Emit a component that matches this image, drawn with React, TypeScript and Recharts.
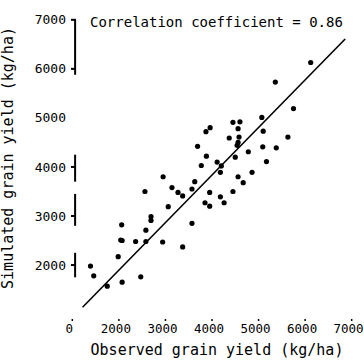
import { ReferenceLine, Scatter, ScatterChart, XAxis, YAxis } from "recharts";

const FONT = "'DejaVu Sans Mono', monospace";

// observed (x) vs simulated (y) grain yield, kg/ha
const OBSERVED = [
  6120, 5360, 5750, 5070, 4450, 4600, 3960, 3870, 4560, 5100, 4370, 4580, 5630, 4560, 4540,
  4780, 5090, 5380, 3880, 4500, 4110, 5170, 3770, 4200, 4180, 4860, 4560, 4670, 3950, 4450,
  4180, 3690, 2950, 3630, 2560, 3140, 3270, 3370, 3570, 3850, 3950, 4260, 3060, 2690, 2690,
  3570, 2060, 2580, 2070, 2040, 2360, 2580, 2940, 3370, 1985, 1390, 1460, 1750, 2070, 2470,
];
const SIMULATED = [
  6130, 5730, 5190, 5010, 4910, 4920, 4800, 4720, 4780, 4730, 4590, 4610, 4610, 4500, 4440,
  4310, 4410, 4390, 4220, 4200, 4100, 4110, 4030, 4020, 3890, 3890, 3800, 3680, 3480, 3500,
  3390, 4420, 3800, 3700, 3500, 3580, 3480, 3410, 3550, 3270, 3200, 3270, 3190, 2990, 2910,
  2850, 2820, 2710, 2500, 2510, 2480, 2480, 2470, 2370, 2170, 1980, 1780, 1570, 1650, 1760,
];

const X_TICKS = [1000, 2000, 3000, 4000, 5000, 6000, 7000];
const X_TICK_LABELS = ["0", "2000", "3000", "4000", "5000", "6000", "7000"];
const Y_TICKS = [2000, 3000, 4000, 5000, 6000, 7000];
const Y_TICKS_MARKED = [2000, 3000, 4000, 6000, 7000];
// pieces of the (broken) y axis line that survive in the print
const Y_AXIS_PIECES = [
  [5880, 7000],
  [3700, 4250],
  [2800, 3450],
  [1750, 2250],
];
const Y_AXIS_AT = 1060;

const FIT_X = [1220, 6860];
const FIT_Y = [1140, 6610];
const CORRELATION = "0.86";

const data = OBSERVED.map((x, i) => ({ x, y: SIMULATED[i] }));

function YTick(props: any) {
  const { x, y, payload } = props;
  const v = Number(payload.value);
  return (
    <g>
      <text x={x + 3} y={y} dy="0.35em" textAnchor="end" fontSize={13} fontFamily={FONT} fill="#000">
        {v}
      </text>
      {Y_TICKS_MARKED.includes(v) && <rect x={x + 8} y={y - 1} width={5} height={2} fill="#000" />}
    </g>
  );
}

export default function App() {
  return (
    <div style={{ position: "absolute", left: 0, top: 0, width: 364, height: 364, background: "#fff" }}>
      <ScatterChart width={364} height={364} margin={{ top: 10, right: 3, bottom: 0, left: 0 }}>
        <XAxis
          dataKey="x"
          type="number"
          domain={[800, 7200]}
          allowDataOverflow
          ticks={X_TICKS}
          tickFormatter={(v) => X_TICK_LABELS[X_TICKS.indexOf(v)] ?? ""}
          axisLine={false}
          tickSize={2}
          tickMargin={3}
          tickLine={{ stroke: "#000", strokeWidth: 1.5 }}
          tick={{ fill: "#000", fontSize: 12.5, fontFamily: FONT, dx: -3 }}
          height={45}
        />
        <YAxis
          dataKey="y"
          type="number"
          domain={[900, 7200]}
          allowDataOverflow
          ticks={Y_TICKS}
          axisLine={{ stroke: "transparent" }}
          tickLine={false}
          tickSize={0}
          tickMargin={0}
          tick={YTick}
          width={63}
        />
        {Y_AXIS_PIECES.map(([a, b], i) => (
          <ReferenceLine
            key={i}
            segment={[
              { x: Y_AXIS_AT, y: a },
              { x: Y_AXIS_AT, y: b },
            ]}
            stroke="#000"
            strokeWidth={2}
          />
        ))}
        <ReferenceLine
          segment={[
            { x: FIT_X[0], y: FIT_Y[0] },
            { x: FIT_X[1], y: FIT_Y[1] },
          ]}
          stroke="#000"
          strokeWidth={1.6}
        />
        <Scatter
          data={data}
          isAnimationActive={false}
          shape={(p: any) => <circle cx={p.cx} cy={p.cy} r={2.6} fill="#000" />}
        />
      </ScatterChart>
      <svg
        width={364}
        height={364}
        style={{ position: "absolute", left: 0, top: 0, pointerEvents: "none" }}
      >
        <text x={90} y={27} fontSize={14} fontFamily={FONT} fill="#000">
          {`Correlation coefficient = ${CORRELATION}`}
        </text>
        <text x={217} y={355} textAnchor="middle" fontSize={15} fontFamily={FONT} fill="#000">
          Observed grain yield (kg/ha)
        </text>
        <text
          transform="translate(13 158) rotate(-90)"
          textAnchor="middle"
          fontSize={15}
          fontFamily={FONT}
          fill="#000"
        >
          Simulated grain yield (kg/ha)
        </text>
      </svg>
    </div>
  );
}
